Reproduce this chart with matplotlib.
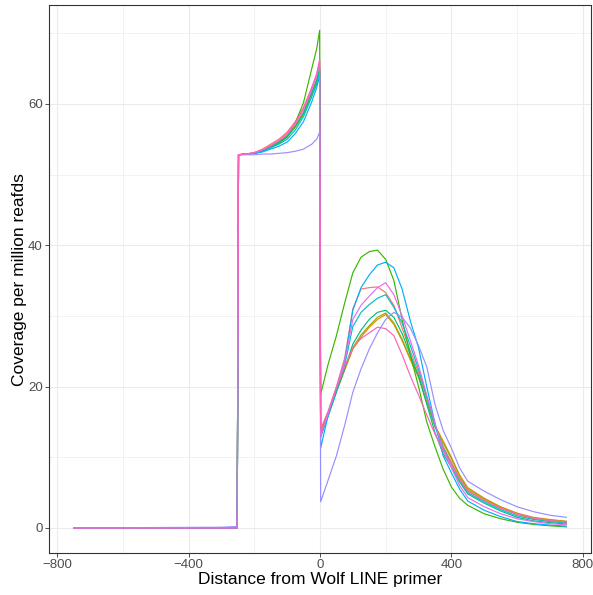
import matplotlib
matplotlib.use("Agg")
import matplotlib.pyplot as plt
import numpy as np

# positions along the read (bp from primer); left block then right block
X_LEFT = [-750, -300, -252, -248, -225, -200, -175, -150, -125, -100, -75, -50, -25, -10, -1]
X_RIGHT = [2, 25, 50, 75, 100, 125, 150, 175, 200, 225, 250, 275, 300, 325, 350,
           375, 400, 425, 450, 500, 550, 600, 650, 700, 750]

# coverage left of the primer (x in X_LEFT)
LEFT_SALMON = [0, 0, 0, 52.8, 52.9, 53.1, 53.6, 54.3, 55.0, 56.0, 57.5, 59.5, 62.3, 64.0, 65.6]
LEFT_ORANGE = [0, 0, 0, 52.8, 52.9, 53.0, 53.4, 54.0, 54.6, 55.5, 56.9, 58.8, 61.6, 63.4, 65.0]
LEFT_OLIVE = [0, 0, 0, 52.8, 52.9, 53.0, 53.3, 53.9, 54.5, 55.3, 56.7, 58.5, 61.3, 63.0, 64.6]
LEFT_GREEN = [0, 0, 0, 52.8, 52.9, 53.0, 53.3, 53.8, 54.4, 55.3, 57.3, 60.2, 65.0, 67.8, 70.4]
LEFT_GREENTEAL = [0, 0, 0, 52.8, 52.9, 53.0, 53.4, 54.0, 54.6, 55.4, 56.8, 58.7, 61.6, 63.3, 65.0]
LEFT_TEAL = [0, 0, 0, 52.8, 52.9, 53.0, 53.3, 53.8, 54.3, 55.0, 56.3, 58.2, 61.0, 62.8, 64.5]
LEFT_CYAN = [0, 0, 0, 52.8, 52.9, 53.0, 53.2, 53.6, 54.0, 54.6, 55.8, 57.5, 60.3, 62.3, 64.0]
LEFT_LAVENDER = [0, 0.1, 0.2, 52.8, 52.8, 52.8, 52.9, 52.9, 53.0, 53.1, 53.3, 53.6, 54.3, 55.0, 56.0]
LEFT_PURPLE = [0, 0, 0, 52.8, 52.9, 53.1, 53.5, 54.1, 54.8, 55.7, 57.2, 59.2, 62.0, 64.0, 66.0]
LEFT_PINK = [0, 0, 0, 52.8, 52.9, 53.1, 53.5, 54.1, 54.8, 55.8, 57.3, 59.4, 62.3, 64.3, 66.3]

# coverage right of the primer (x in X_RIGHT)
RIGHT_SALMON = [13.5, 16.5, 20.0, 24.0, 31.0, 33.8, 34.0, 34.1, 33.3, 31.5, 28.3, 25.0, 22.0,
                18.5, 14.5, 11.5, 9.3, 7.0, 5.3, 3.9, 2.8, 1.9, 1.3, 1.0, 0.75]
RIGHT_ORANGE = [13.6, 16.0, 19.3, 22.3, 25.3, 27.0, 28.4, 29.5, 30.2, 28.8, 26.5, 23.8, 21.3,
                17.8, 14.5, 12.3, 10.0, 7.5, 5.7, 4.2, 3.0, 2.1, 1.5, 1.2, 0.95]
RIGHT_OLIVE = [13.8, 16.2, 19.5, 22.5, 25.5, 27.3, 28.6, 29.8, 30.4, 29.0, 26.7, 24.0, 21.5,
               17.8, 14.3, 12.0, 9.8, 7.3, 5.5, 4.1, 2.9, 2.0, 1.4, 1.1, 0.9]
RIGHT_GREEN = [18.9, 23.2, 27.2, 31.8, 36.1, 38.3, 39.1, 39.3, 38.0, 35.0, 29.5, 24.5, 20.0,
               15.0, 11.5, 8.3, 5.8, 4.2, 3.2, 2.0, 1.3, 0.8, 0.5, 0.3, 0.15]
RIGHT_GREENTEAL = [13.0, 15.8, 19.2, 22.5, 26.0, 28.0, 29.5, 30.5, 30.8, 29.8, 27.5, 24.5, 21.5,
                   17.5, 13.5, 10.5, 8.6, 6.5, 4.8, 3.5, 2.4, 1.5, 1.0, 0.75, 0.55]
RIGHT_TEAL = [12.8, 16.0, 19.6, 23.0, 28.5, 30.5, 31.6, 32.5, 33.0, 31.2, 29.0, 25.8, 22.5,
              18.5, 14.5, 11.3, 9.0, 6.8, 5.0, 3.7, 2.6, 1.7, 1.2, 0.9, 0.7]
RIGHT_CYAN = [11.3, 16.0, 19.5, 23.5, 30.8, 34.0, 35.8, 37.2, 37.6, 36.8, 33.8, 29.3, 25.5,
              20.0, 14.8, 10.2, 7.8, 5.5, 3.8, 2.5, 1.6, 0.9, 0.6, 0.4, 0.25]
RIGHT_LAVENDER = [3.7, 6.8, 10.2, 14.5, 19.2, 22.5, 25.3, 27.6, 29.5, 30.5, 29.8, 28.3, 25.8,
                  22.8, 17.5, 13.8, 11.3, 8.5, 6.6, 5.2, 4.0, 3.0, 2.3, 1.8, 1.5]
RIGHT_PURPLE = [13.0, 16.2, 19.8, 23.5, 29.5, 31.5, 32.8, 34.0, 34.7, 33.0, 30.0, 26.5, 23.0,
                18.8, 14.8, 11.0, 8.5, 6.0, 4.3, 3.0, 2.0, 1.3, 0.9, 0.6, 0.45]
RIGHT_PINK = [14.0, 16.5, 19.8, 22.8, 25.5, 26.8, 27.6, 28.4, 28.2, 27.2, 24.5, 21.5, 18.8,
              16.0, 13.3, 11.0, 9.0, 6.9, 5.2, 3.9, 2.8, 2.0, 1.4, 1.05, 0.85]

SERIES = [
    ("#F8766D", LEFT_SALMON, RIGHT_SALMON),
    ("#D89000", LEFT_ORANGE, RIGHT_ORANGE),
    ("#A3A500", LEFT_OLIVE, RIGHT_OLIVE),
    ("#39B600", LEFT_GREEN, RIGHT_GREEN),
    ("#00BF7D", LEFT_GREENTEAL, RIGHT_GREENTEAL),
    ("#00BFC4", LEFT_TEAL, RIGHT_TEAL),
    ("#00B0F6", LEFT_CYAN, RIGHT_CYAN),
    ("#9590FF", LEFT_LAVENDER, RIGHT_LAVENDER),
    ("#E76BF3", LEFT_PURPLE, RIGHT_PURPLE),
    ("#FF62BC", LEFT_PINK, RIGHT_PINK),
]

X_MAJOR = [-800, -400, 0, 400, 800]
X_MINOR = [-600, -200, 200, 600]
Y_MAJOR = [0, 20, 40, 60]
Y_MINOR = [10, 30, 50, 70]

plt.rcParams["font.family"] = ["Liberation Sans", "DejaVu Sans"]


def main() -> None:
    fig = plt.figure(figsize=(5.93, 5.95), dpi=100)
    ax = fig.add_axes([0.0826, 0.0709, 0.914, 0.9199])

    x = np.array(X_LEFT + X_RIGHT, dtype=float)
    for color, left, right in SERIES:
        ax.plot(x, left + right, color=color, lw=0.85, zorder=3)

    ax.set_xlim(-825, 825)
    ax.set_ylim(-3.52, 73.92)

    ax.set_xticks(X_MAJOR)
    ax.set_xticks(X_MINOR, minor=True)
    ax.set_yticks(Y_MAJOR)
    ax.set_yticks(Y_MINOR, minor=True)
    ax.grid(True, which="major", color="#EBEBEB", lw=0.8, zorder=0)
    ax.grid(True, which="minor", color="#EBEBEB", lw=0.45, zorder=0)
    ax.set_axisbelow(True)

    ax.tick_params(which="major", length=3.0, width=0.6, color="#333333",
                   labelsize=9.5, labelcolor="#4D4D4D", pad=1.5)
    ax.tick_params(which="minor", length=0)
    for spine in ax.spines.values():
        spine.set_color("#333333")
        spine.set_linewidth(0.8)

    ax.set_xlabel("Distance from Wolf LINE primer", fontsize=12.5, labelpad=1)
    ax.set_ylabel("Coverage per million reafds", fontsize=12.5, labelpad=1)

    fig.savefig("out.png", dpi=100)
    plt.close(fig)


if __name__ == "__main__":
    main()
